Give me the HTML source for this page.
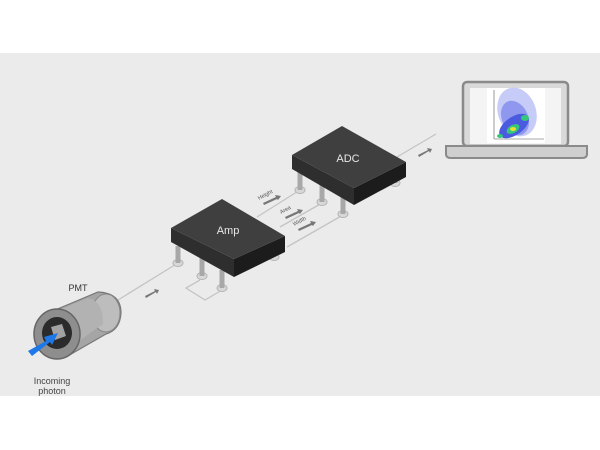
<!DOCTYPE html>
<html><head><style>
html,body{margin:0;padding:0;background:#fff;}
svg{display:block;font-family:"Liberation Sans",sans-serif;}
</style></head><body>
<svg width="600" height="450" viewBox="0 0 600 450">
<rect x="0" y="0" width="600" height="450" fill="#fff"/>
<rect x="0" y="53" width="600" height="343" fill="#ebebeb"/>
<g stroke="#c4c4c4" stroke-width="1.3" fill="none">
<line x1="118" y1="300" x2="178" y2="263"/>
<polyline points="200,280 186,288 205,300 222,290"/>
<line x1="257" y1="217" x2="300" y2="190"/>
<line x1="280" y1="227" x2="322" y2="203"/>
<line x1="287" y1="247" x2="343" y2="215"/>
<line x1="397" y1="157" x2="436" y2="134"/>
</g>
<g fill="#d8d8d8" stroke="#b5b5b5" stroke-width="1">
<ellipse cx="178" cy="263" rx="5" ry="3.5"/><ellipse cx="202" cy="276" rx="5" ry="3.5"/><ellipse cx="222" cy="288" rx="5" ry="3.5"/><ellipse cx="274" cy="257" rx="5" ry="3.5"/>
<ellipse cx="300" cy="190" rx="5" ry="3.5"/><ellipse cx="322" cy="202" rx="5" ry="3.5"/><ellipse cx="343" cy="214" rx="5" ry="3.5"/><ellipse cx="395" cy="183" rx="5" ry="3.5"/>
</g>
<g fill="#a8a8a8">
<rect x="175.5" y="246" width="5" height="17"/><rect x="199.5" y="258" width="5" height="18"/><rect x="219.5" y="270" width="5" height="18"/>
<rect x="297.5" y="172" width="5" height="18"/><rect x="319.5" y="184" width="5" height="18"/><rect x="340.5" y="196" width="5" height="18"/><rect x="392.5" y="172" width="5" height="11"/>
</g>
<polygon points="171,228 234,259 234,277 171,242" fill="#2e2e2e"/>
<polygon points="234,259 285,236 285,252 234,277" fill="#1c1c1c"/>
<polygon points="171,228 222,199 285,236 234,259" fill="#3f3f3f"/>
<text x="228" y="234" font-size="11" fill="#e8e8e8" text-anchor="middle">Amp</text>
<polygon points="292,155 354,188 354,205 292,169" fill="#2e2e2e"/>
<polygon points="354,188 406,162 406,177 354,205" fill="#1c1c1c"/>
<polygon points="292,155 342,126 406,162 354,188" fill="#3f3f3f"/>
<text x="348" y="162" font-size="11" fill="#e8e8e8" text-anchor="middle">ADC</text>
<g fill="#777">
<polygon points="145,296 155,291 154,289 159,290 157,294 156,292 146,298"/>
<polygon points="263,203 276,197 275,195 281,196 278,200 277,199 264,205"/>
<polygon points="285,217 298,211 297,209 303,210 300,214 299,213 286,219"/>
<polygon points="298,229 311,223 310,221 316,222 313,226 312,225 299,231"/>
<polygon points="418,155 428,150 427,148 432,149 430,153 429,151 419,157"/>
</g>
<g font-size="5.5" fill="#555">
<text x="259" y="200" transform="rotate(-28 259 200)">Height</text>
<text x="281" y="214" transform="rotate(-28 281 214)">Area</text>
<text x="294" y="226" transform="rotate(-28 294 226)">Width</text>
</g>
<rect x="463" y="82" width="105" height="64" rx="4" fill="#d9d9d9" stroke="#8a8a8a" stroke-width="2.5"/>
<rect x="470" y="88" width="91" height="56" fill="#f4f4f4"/>
<path d="M446,146 H587 V154 Q587,158 582,158 H451 Q446,158 446,154 Z" fill="#cfcfcf" stroke="#8a8a8a" stroke-width="2"/>
<rect x="487" y="88" width="58" height="55" fill="#fff"/>
<g>
<ellipse cx="517" cy="112" rx="19" ry="25" fill="#c7cbf7" transform="rotate(-20 517 112)"/>
<ellipse cx="515" cy="118" rx="13" ry="18" fill="#8f98ee" transform="rotate(-25 515 118)"/>
<ellipse cx="514" cy="126" rx="17" ry="9" fill="#4b5be0" transform="rotate(-35 514 126)"/>
<ellipse cx="513" cy="129" rx="7" ry="4" fill="#36c87a" transform="rotate(-30 513 129)"/>
<ellipse cx="525" cy="118" rx="4" ry="3" fill="#36c87a"/>
<ellipse cx="513" cy="129" rx="3" ry="2" fill="#e8e033"/>
<ellipse cx="500" cy="136" rx="3" ry="2" fill="#36c87a"/>
<line x1="494" y1="90" x2="494" y2="139" stroke="#555" stroke-width="0.6"/>
<line x1="494" y1="139" x2="544" y2="139" stroke="#555" stroke-width="0.6"/>
</g>
<!-- PMT -->
<path d="M48,313 L98,292 Q121,293 121,313 Q120,330 106,334 L66,357 Z" fill="#a5a5a5" stroke="#777" stroke-width="1.2"/>
<ellipse cx="106" cy="313" rx="14" ry="19" fill="#bdbdbd" stroke="#888" stroke-width="1"/>
<path d="M44,316 L88,298 Q104,302 103,324 L66,350 Z" fill="#b2b2b2"/>
<ellipse cx="57" cy="334" rx="23" ry="25" fill="#8e8e8e" stroke="#666" stroke-width="1.5"/>
<ellipse cx="57" cy="333" rx="15" ry="16" fill="#2b2b2b"/>
<polygon points="51,327 62,324 66,336 55,340" fill="#a2a2a2"/>
<polygon points="28,351 46,341 44,337 58,333 52,345 50,342 32,356" fill="#1f78e8"/>
<text x="78" y="291" font-size="9" fill="#333" text-anchor="middle">PMT</text>
<text x="52" y="384" font-size="9" fill="#444" text-anchor="middle">Incoming</text>
<text x="52" y="394" font-size="9" fill="#444" text-anchor="middle">photon</text>
</svg>
</body></html>
